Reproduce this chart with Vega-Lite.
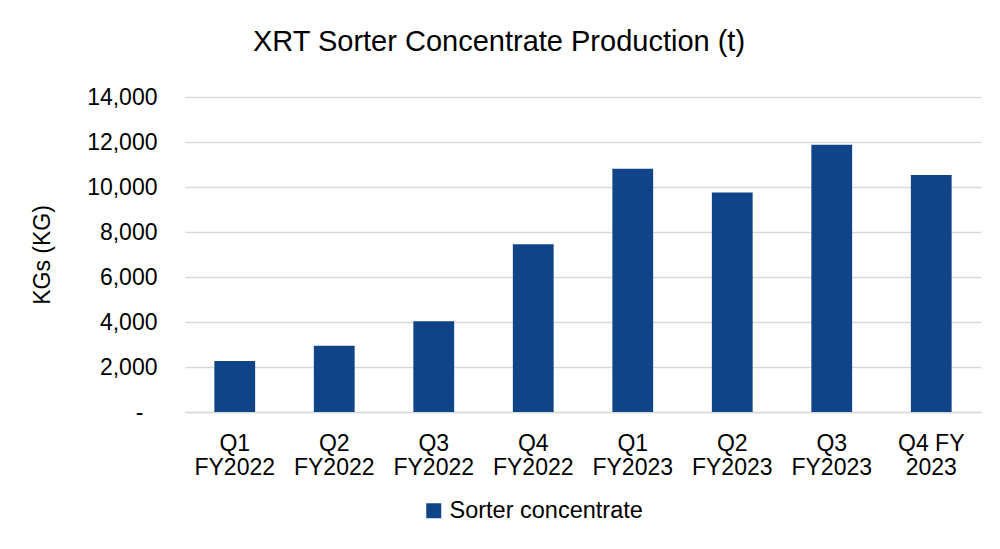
{
  "$schema": "https://vega.github.io/schema/vega-lite/v6.json",
  "width": 796,
  "height": 315,
  "autosize": {"type": "none"},
  "padding": {"left": 185, "top": 97, "right": 19, "bottom": 137},
  "background": "white",
  "title": {
    "text": "XRT Sorter Concentrate Production (t)",
    "font": "Liberation Sans",
    "fontSize": 29,
    "fontWeight": "normal",
    "color": "#000000",
    "anchor": "middle",
    "dx": -84,
    "baseline": "alphabetic",
    "offset": 6
  },
  "data": {
    "values": [
      {"quarter": "Q1 FY2022", "kg": 2270, "series": "Sorter concentrate"},
      {"quarter": "Q2 FY2022", "kg": 2940, "series": "Sorter concentrate"},
      {"quarter": "Q3 FY2022", "kg": 4030, "series": "Sorter concentrate"},
      {"quarter": "Q4 FY2022", "kg": 7460, "series": "Sorter concentrate"},
      {"quarter": "Q1 FY2023", "kg": 10810, "series": "Sorter concentrate"},
      {"quarter": "Q2 FY2023", "kg": 9760, "series": "Sorter concentrate"},
      {"quarter": "Q3 FY2023", "kg": 11880, "series": "Sorter concentrate"},
      {"quarter": "Q4 FY 2023", "kg": 10530, "series": "Sorter concentrate"}
    ]
  },
  "mark": {"type": "bar"},
  "encoding": {
    "x": {
      "field": "quarter",
      "type": "nominal",
      "sort": null,
      "scale": {"paddingInner": 0.59, "paddingOuter": 0.295},
      "axis": {
        "title": null,
        "labelAngle": 0,
        "labelFont": "Liberation Sans",
        "labelFontSize": 23,
        "labelColor": "#000000",
        "labelPadding": 20,
        "labelLineHeight": 24,
        "labelBaseline": "top",
        "labelExpr": "datum.label == 'Q4 FY 2023' ? ['Q4 FY', '2023'] : split(datum.label, ' ')",
        "ticks": false,
        "domainColor": "#D9D9D9",
        "domainWidth": 1.5,
        "grid": false
      }
    },
    "y": {
      "field": "kg",
      "type": "quantitative",
      "scale": {"domain": [0, 14000], "nice": false},
      "axis": {
        "title": "KGs (KG)",
        "titleFont": "Liberation Sans",
        "titleFontSize": 23,
        "titleFontWeight": "normal",
        "titleColor": "#000000",
        "titlePadding": 32,
        "values": [0, 2000, 4000, 6000, 8000, 10000, 12000, 14000],
        "labelExpr": "datum.value == 0 ? '-' : format(datum.value, ',')",
        "labelFont": "Liberation Sans",
        "labelFontSize": 23,
        "labelColor": "#000000",
        "labelPadding": {"condition": {"test": "datum.value == 0", "value": 42}, "value": 28},
        "ticks": false,
        "domain": false,
        "grid": true,
        "gridColor": "#D9D9D9",
        "gridWidth": 1.5
      }
    },
    "color": {
      "field": "series",
      "type": "nominal",
      "scale": {"range": ["#0F4588"]},
      "legend": {
        "title": null,
        "orient": "none",
        "legendX": 237,
        "legendY": 402,
        "symbolType": "square",
        "symbolSize": 225,
        "symbolStrokeWidth": 0,
        "labelFont": "Liberation Sans",
        "labelFontSize": 23.5,
        "labelColor": "#000000",
        "labelOffset": 4,
        "labelLimit": 500
      }
    }
  },
  "config": {"view": {"stroke": null}}
}
